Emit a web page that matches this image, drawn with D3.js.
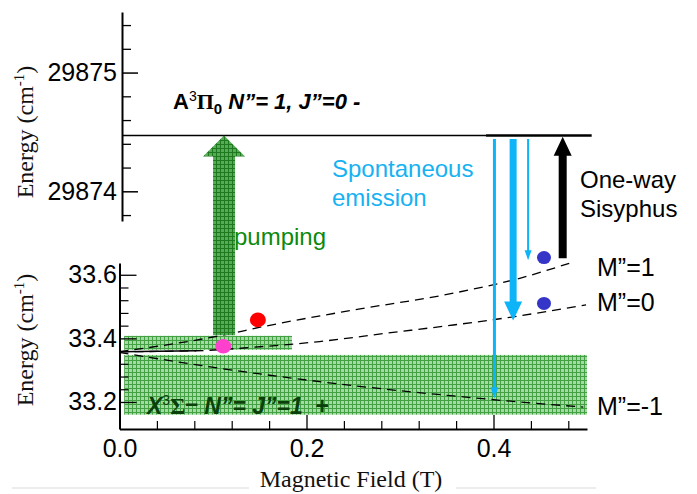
<!DOCTYPE html>
<html><head><meta charset="utf-8">
<script src="https://cdn.jsdelivr.net/npm/d3@7"></script>
<style>body{margin:0;background:#fff}svg{display:block}text{white-space:pre}</style>
</head><body><svg id="c" width="697" height="494"></svg>
<script>
// ---------- data ----------
const fieldTicksMajor = [0.0, 0.2, 0.4];
const fieldTicksMinor = [0.04, 0.08, 0.12, 0.16, 0.24, 0.28, 0.32, 0.36, 0.44, 0.48];
const lowerTicksMajor = [33.2, 33.4, 33.6];
const lowerTicksMinor = [33.24, 33.28, 33.32, 33.36, 33.44, 33.48, 33.52, 33.56];
const upperTicksMajor = [29874, 29875];
const upperTicksMinor = [29873.8, 29874.2, 29874.4, 29874.6, 29874.8, 29875.2, 29875.4];

// Zeeman levels of X state (field T, energy cm-1)
const levelMp1 = [[0,33.358],[0.107,33.408],[0.157,33.439],[0.25,33.489],[0.357,33.542],[0.428,33.589],[0.481,33.636]];
const levelM0  = [[0,33.358],[0.082,33.361],[0.143,33.372],[0.214,33.39],[0.285,33.416],[0.357,33.442],[0.41,33.463],[0.499,33.505]];
const levelMm1 = [[0,33.356],[0.071,33.322],[0.143,33.291],[0.214,33.264],[0.285,33.24],[0.357,33.219],[0.428,33.2],[0.496,33.184]];
const levelLabels = ["M”=1", "M”=0", "M”=-1"];

const upperLevelEnergy = 29874.47;           // A state level
const upperLevelThickFrom = 0.392;           // field where drawn line becomes thick

// populated states (field, energy)
const molFields   = [0.148, 0.111, 0.454, 0.454];
const molEnergies = [33.458, 33.375, 33.654, 33.51];
const molColors   = ["#ff0000", "#ff40cc", "#3535c8", "#3535c8"];

// hatched bands: [field0, field1, energy0, energy1]
const bandFields   = [[0.005, 0.1845], [0.005, 0.5]];
const bandEnergies = [[33.364, 33.408], [33.16, 33.348]];

// spontaneous-emission arrows: field, lower end energy, style
const emissionFields   = [0.401, 0.421, 0.437];
const emissionEnergies = [33.212, 33.456, 33.646];
const emissionStyle    = ["thin", "thick", "thinner"];
const sisyphusField = 0.474, sisyphusFrom = 33.652;
const pumpField = 0.1118, pumpFrom = 33.41;

// ---------- scales ----------
const svg = d3.select("#c");
const x = d3.scaleLinear().domain([0, 0.5]).range([119.5, 587]);
const yLo = d3.scaleLinear().domain([33.115, 33.637]).range([429, 263]);
const yUp = d3.scaleLinear().domain([29873.75, 29875.51]).range([221, 12]);
const SANS = "Liberation Sans, Arial, sans-serif";
const SERIF = "Liberation Serif, Times New Roman, serif";

// ---------- patterns ----------
const defs = svg.append("defs");
function pat(id, bg, line) {
  const p = defs.append("pattern").attr("id", id).attr("patternUnits", "userSpaceOnUse")
    .attr("width", 4).attr("height", 4);
  p.append("rect").attr("width", 4).attr("height", 4).attr("fill", bg);
  p.append("rect").attr("width", 4).attr("height", 1).attr("fill", line);
  p.append("rect").attr("width", 1).attr("height", 4).attr("fill", line);
}
pat("boxPat", "#a4dba4", "#43a043");
pat("arrowPat", "#56ab56", "#1f7a1f");

// faint bottom rule
svg.append("line").attr("x1", 12).attr("x2", 249).attr("y1", 488).attr("y2", 488).attr("stroke", "#ececec").attr("stroke-width", 2);
svg.append("line").attr("x1", 456).attr("x2", 596).attr("y1", 488).attr("y2", 488).attr("stroke", "#ececec").attr("stroke-width", 2);

// bands
svg.selectAll("rect.band").data(bandFields).join("rect").attr("class", "band")
  .attr("x", d => x(d[0])).attr("width", d => x(d[1]) - x(d[0]))
  .attr("y", (d, i) => yLo(bandEnergies[i][1]))
  .attr("height", (d, i) => yLo(bandEnergies[i][0]) - yLo(bandEnergies[i][1]))
  .attr("fill", "url(#boxPat)");

// ---------- axes ----------
function styleAxis(g, domainW, tickW) {
  g.select(".domain").attr("stroke", "#000").attr("stroke-width", domainW);
  g.selectAll(".tick line").attr("stroke", "#000").attr("stroke-width", tickW);
  g.selectAll(".tick text").attr("font-family", SANS).attr("font-size", 25).attr("fill", "#000");
}
// upper energy axis
const gUpMinor = svg.append("g").attr("transform", "translate(122,0)")
  .call(d3.axisLeft(yUp).tickValues(upperTicksMinor).tickSize(-9).tickSizeOuter(0).tickFormat(""));
gUpMinor.select(".domain").remove(); styleAxis(gUpMinor, 0, 1.3);
const gUp = svg.append("g").attr("transform", "translate(122,0)")
  .call(d3.axisLeft(yUp).tickValues(upperTicksMajor).tickSize(-16).tickSizeOuter(0).tickPadding(5).tickFormat(d3.format("d")));
styleAxis(gUp, 2, 1.5);

// lower energy axis
const gLoMinor = svg.append("g").attr("transform", "translate(119.5,0)")
  .call(d3.axisLeft(yLo).tickValues(lowerTicksMinor).tickSize(-9).tickSizeOuter(0).tickFormat(""));
gLoMinor.select(".domain").remove(); styleAxis(gLoMinor, 0, 1.2);
const gLo = svg.append("g").attr("transform", "translate(119.5,0)")
  .call(d3.axisLeft(yLo).tickValues(lowerTicksMajor).tickSize(-17).tickSizeOuter(0).tickPadding(2.5).tickFormat(d3.format(".1f")));
styleAxis(gLo, 2, 1.3);

// field axis
const gXMinor = svg.append("g").attr("transform", "translate(0,429)")
  .call(d3.axisBottom(x).tickValues(fieldTicksMinor).tickSize(-8).tickSizeOuter(0).tickFormat(""));
gXMinor.select(".domain").remove(); styleAxis(gXMinor, 0, 1.2);
const gX = svg.append("g").attr("transform", "translate(0,429)")
  .call(d3.axisBottom(x).tickValues(fieldTicksMajor).tickSize(-14).tickSizeOuter(0).tickPadding(10).tickFormat(d3.format(".1f")));
styleAxis(gX, 2, 1.3);

// axis titles
function energyTitle(cx, cy) {
  const t = svg.append("text").attr("transform", `translate(${cx},${cy}) rotate(-90)`)
    .attr("text-anchor", "middle").attr("font-family", SERIF).attr("font-size", 24).attr("fill", "#111");
  t.append("tspan").text("Energy (cm");
  t.append("tspan").attr("font-size", 15).attr("dy", -9).text("-1");
  t.append("tspan").attr("dy", 9).text(")");
}
energyTitle(33, 132);
energyTitle(33, 340);
svg.append("text").attr("x", 351).attr("y", 487).attr("text-anchor", "middle")
  .attr("font-family", SERIF).attr("font-size", 24).attr("fill", "#111").text("Magnetic Field (T)");

// ---------- A-state level ----------
const yA = yUp(upperLevelEnergy);
svg.append("line").attr("x1", 122).attr("x2", x(upperLevelThickFrom)).attr("y1", yA).attr("y2", yA)
  .attr("stroke", "#000").attr("stroke-width", 1.3);
svg.append("line").attr("x1", x(upperLevelThickFrom)).attr("x2", x(0.505)).attr("y1", yA).attr("y2", yA)
  .attr("stroke", "#000").attr("stroke-width", 2.4);

// ---------- Zeeman curves ----------
const line = d3.line().x(d => x(d[0])).y(d => yLo(d[1])).curve(d3.curveMonotoneX);
[levelMp1, levelM0, levelMm1].forEach(lv => {
  svg.append("path").attr("d", line(lv)).attr("fill", "none").attr("stroke", "#000")
    .attr("stroke-width", 1.3).attr("stroke-dasharray", "9,6");
});
// solid zero-field segment
svg.append("path").attr("d", line(levelM0.slice(0, 2))).attr("fill", "none").attr("stroke", "#000").attr("stroke-width", 1.6);

// ---------- arrows ----------
function arrow(cx, yTail, yTip, sw, hw, hl, fill) {
  const s = Math.sign(yTip - yTail), base = yTip - s * hl;
  const pts = [[cx - sw / 2, yTail], [cx - sw / 2, base], [cx - hw / 2, base], [cx, yTip],
               [cx + hw / 2, base], [cx + sw / 2, base], [cx + sw / 2, yTail]];
  svg.append("polygon").attr("points", pts.map(p => p.join(",")).join(" ")).attr("fill", fill);
}
// pumping arrow
arrow(x(pumpField), yLo(pumpFrom), yA, 22, 42, 21, "url(#arrowPat)");
// emission arrows
const eStyles = { thin: [3, 8, 11], thick: [7, 18, 19], thinner: [2, 7, 10] };
emissionFields.forEach((f, i) => {
  const st = eStyles[emissionStyle[i]];
  arrow(x(f), yA + 3.5, yLo(emissionEnergies[i]), st[0], st[1], st[2], "#0db4f7");
});
// sisyphus arrow
arrow(x(sisyphusField), yLo(sisyphusFrom), yA + 1.2, 8, 18, 19, "#000");

// ---------- molecules ----------
svg.selectAll("ellipse.mol").data(molFields).join("ellipse").attr("class", "mol")
  .attr("cx", d => x(d)).attr("cy", (d, i) => yLo(molEnergies[i]))
  .attr("rx", (d, i) => i < 2 ? 8 : 7).attr("ry", (d, i) => i < 2 ? 7.3 : 6.5)
  .attr("fill", (d, i) => molColors[i]);

// ---------- labels ----------
const lvY = [276, 311, 415];
levelLabels.forEach((t, i) => {
  svg.append("text").attr("x", 597).attr("y", lvY[i]).attr("font-family", SANS).attr("font-size", 25)
    .attr("fill", "#000").text(t);
});
function txt(xx, yy, s, col, size) {
  svg.append("text").attr("x", xx).attr("y", yy).attr("font-family", SANS).attr("font-size", size || 24)
    .attr("fill", col).text(s);
}
txt(332, 177, "Spontaneous", "#16b2f2");
txt(332, 206, "emission", "#16b2f2");
txt(580, 188, "One-way", "#000");
txt(580, 217, "Sisyphus", "#000");
txt(234, 245, "pumping", "#0c8a0c");

// A state label
const ta = svg.append("text").attr("x", 173).attr("y", 109).attr("font-family", SANS)
  .attr("font-size", 22).attr("font-weight", "bold").attr("fill", "#000");
ta.append("tspan").text("A");
ta.append("tspan").attr("font-size", 14).attr("font-weight", "normal").attr("dy", -8).text("3");
ta.append("tspan").attr("font-family", SERIF).attr("dy", 8).text("Π");
ta.append("tspan").attr("font-size", 15).attr("dy", 5).text("0");
ta.append("tspan").attr("dy", -5).attr("font-style", "italic").text(" N”= 1, J”=0 -");

// X state label
const tx = svg.append("text").attr("x", 147).attr("y", 414).attr("font-family", SANS)
  .attr("font-size", 23).attr("font-weight", "bold").attr("font-style", "italic").attr("fill", "#0b3f0b");
tx.append("tspan").text("X");
tx.append("tspan").attr("font-size", 14).attr("font-style", "normal").attr("font-weight", "normal").attr("dy", -9).text("3");
tx.append("tspan").attr("font-family", SERIF).attr("font-style", "normal").attr("dy", 9).text("Σ");
tx.append("tspan").attr("font-style", "normal").attr("dy", -3).text("–");
tx.append("tspan").attr("dy", 3).text(" N”= J”=1  ");
tx.append("tspan").attr("font-style", "normal").text("+");
</script>
</body></html>
